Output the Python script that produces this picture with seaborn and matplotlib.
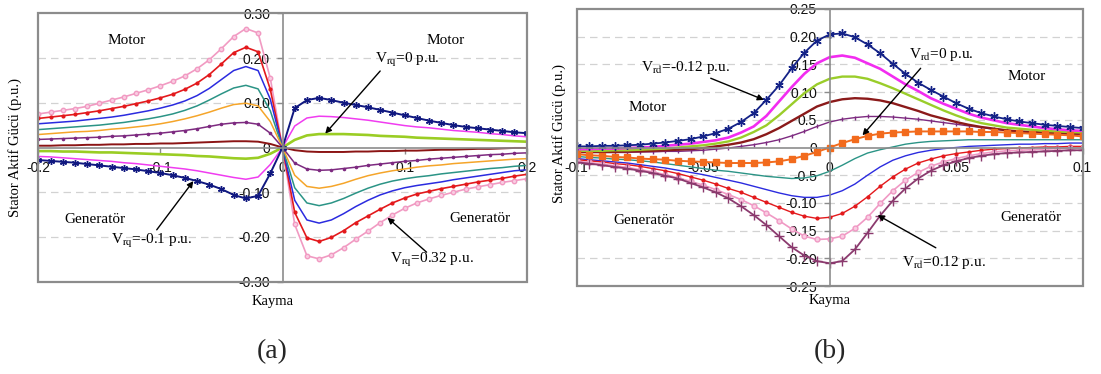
import matplotlib
matplotlib.use("Agg")
import matplotlib.pyplot as plt
import seaborn as sns
from matplotlib.patches import Rectangle

# ---------------- panel (a): stator active power vs slip, Vrq sweep ----------------
slip_a = [-0.20, -0.19, -0.18, -0.17, -0.16, -0.15, -0.14, -0.13, -0.12, -0.11,
          -0.10, -0.09, -0.08, -0.07, -0.06, -0.05, -0.04, -0.03, -0.02, -0.01,
          0.00, 0.01, 0.02, 0.03, 0.04, 0.05, 0.06, 0.07, 0.08, 0.09,
          0.10, 0.11, 0.12, 0.13, 0.14, 0.15, 0.16, 0.17, 0.18, 0.19, 0.20]

pa_pink = [0.075, 0.079, 0.083, 0.087, 0.092, 0.099, 0.106, 0.113, 0.121, 0.129,
           0.138, 0.148, 0.160, 0.176, 0.196, 0.221, 0.248, 0.266, 0.256, 0.155, 0.0,
           -0.172, -0.242, -0.249, -0.240, -0.224, -0.205, -0.187, -0.168, -0.151, -0.136,
           -0.124, -0.115, -0.107, -0.100, -0.093, -0.088, -0.083, -0.078, -0.074, -0.070]
pa_red = [0.065, 0.068, 0.071, 0.074, 0.078, 0.082, 0.087, 0.092, 0.098, 0.104,
          0.111, 0.119, 0.130, 0.144, 0.163, 0.187, 0.212, 0.224, 0.214, 0.130, 0.0,
          -0.145, -0.202, -0.210, -0.201, -0.186, -0.168, -0.153, -0.138, -0.124, -0.113,
          -0.104, -0.098, -0.092, -0.087, -0.082, -0.077, -0.073, -0.069, -0.064, -0.060]
pa_blue = [0.053, 0.055, 0.057, 0.059, 0.062, 0.065, 0.068, 0.072, 0.077, 0.082,
           0.088, 0.095, 0.104, 0.116, 0.132, 0.152, 0.172, 0.181, 0.172, 0.108, 0.0,
           -0.118, -0.162, -0.169, -0.162, -0.148, -0.132, -0.118, -0.106, -0.097, -0.090,
           -0.085, -0.081, -0.077, -0.072, -0.068, -0.064, -0.060, -0.056, -0.052, -0.050]
pa_teal = [0.040, 0.042, 0.044, 0.046, 0.048, 0.050, 0.053, 0.056, 0.060, 0.064,
           0.069, 0.075, 0.083, 0.093, 0.106, 0.120, 0.133, 0.139, 0.131, 0.082, 0.0,
           -0.090, -0.124, -0.130, -0.124, -0.114, -0.102, -0.091, -0.082, -0.075, -0.070,
           -0.066, -0.063, -0.059, -0.056, -0.053, -0.050, -0.047, -0.045, -0.042, -0.040]
pa_orange = [0.029, 0.031, 0.033, 0.035, 0.036, 0.038, 0.041, 0.043, 0.046, 0.049,
             0.053, 0.058, 0.064, 0.071, 0.079, 0.088, 0.096, 0.099, 0.093, 0.058, 0.0,
             -0.062, -0.087, -0.091, -0.087, -0.080, -0.071, -0.063, -0.057, -0.052, -0.048,
             -0.044, -0.041, -0.039, -0.036, -0.034, -0.032, -0.030, -0.028, -0.026, -0.025]
pa_purple = [0.018, 0.019, 0.020, 0.021, 0.022, 0.023, 0.025, 0.026, 0.028, 0.030,
             0.032, 0.035, 0.038, 0.042, 0.047, 0.052, 0.055, 0.056, 0.052, 0.032, 0.0,
             -0.035, -0.048, -0.051, -0.050, -0.047, -0.044, -0.040, -0.037, -0.034, -0.031,
             -0.029, -0.026, -0.024, -0.022, -0.020, -0.018, -0.016, -0.015, -0.013, -0.012]
pa_brown = [0.004, 0.004, 0.005, 0.005, 0.006, 0.006, 0.007, 0.007, 0.008, 0.008,
            0.009, 0.009, 0.010, 0.011, 0.012, 0.013, 0.014, 0.014, 0.013, 0.008, 0.0,
            -0.006, -0.009, -0.010, -0.010, -0.010, -0.009, -0.009, -0.008, -0.008, -0.007,
            -0.007, -0.006, -0.005, -0.005, -0.004, -0.003, -0.003, -0.002, -0.001, -0.001]
pa_green = [-0.008, -0.008, -0.009, -0.009, -0.010, -0.011, -0.011, -0.012, -0.013, -0.014,
            -0.015, -0.016, -0.017, -0.019, -0.020, -0.022, -0.024, -0.025, -0.023, -0.014, 0.0,
            0.017, 0.027, 0.030, 0.030, 0.030, 0.029, 0.028, 0.026, 0.025, 0.024,
            0.022, 0.021, 0.020, 0.019, 0.018, 0.017, 0.016, 0.015, 0.014, 0.013]
pa_magenta = [-0.020, -0.021, -0.023, -0.025, -0.027, -0.029, -0.031, -0.034, -0.036, -0.039,
              -0.042, -0.045, -0.048, -0.052, -0.057, -0.062, -0.067, -0.071, -0.066, -0.038, 0.0,
              0.048, 0.066, 0.070, 0.069, 0.067, 0.064, 0.061, 0.057, 0.053, 0.049,
              0.046, 0.044, 0.041, 0.038, 0.036, 0.034, 0.031, 0.029, 0.026, 0.024]
pa_navy = [-0.028, -0.030, -0.032, -0.034, -0.037, -0.040, -0.043, -0.046, -0.049, -0.053,
           -0.057, -0.062, -0.068, -0.075, -0.083, -0.093, -0.106, -0.114, -0.108, -0.058, 0.0,
           0.088, 0.106, 0.111, 0.106, 0.100, 0.095, 0.090, 0.084, 0.078, 0.072,
           0.066, 0.060, 0.055, 0.050, 0.046, 0.043, 0.040, 0.037, 0.034, 0.032]

ticks_a_x = [-0.2, -0.1, 0.0, 0.1, 0.2]
labels_a_x = ["-0.2", "-0.1", "0", "0.1", "0.2"]
ticks_a_y = [-0.30, -0.20, -0.10, 0.0, 0.10, 0.20, 0.30]
labels_a_y = ["-0.30", "-0.20", "-0.10", "0", "0.10", "0.20", "0.30"]

# ---------------- panel (b): stator active power vs slip, Vrd sweep ----------------
slip_b = [-0.100, -0.095, -0.090, -0.085, -0.080, -0.075, -0.070, -0.065, -0.060, -0.055,
          -0.050, -0.045, -0.040, -0.035, -0.030, -0.025, -0.020, -0.015, -0.010, -0.005,
          0.000, 0.005, 0.010, 0.015, 0.020, 0.025, 0.030, 0.035, 0.040, 0.045,
          0.050, 0.055, 0.060, 0.065, 0.070, 0.075, 0.080, 0.085, 0.090, 0.095, 0.100]

pb_navy = [0.002, 0.002, 0.003, 0.003, 0.004, 0.005, 0.007, 0.009, 0.012, 0.015,
           0.020, 0.026, 0.034, 0.046, 0.062, 0.086, 0.112, 0.143, 0.171, 0.193, 0.204,
           0.206, 0.199, 0.186, 0.170, 0.151, 0.133, 0.117, 0.104, 0.092, 0.080,
           0.070, 0.062, 0.056, 0.051, 0.047, 0.044, 0.041, 0.039, 0.037, 0.035]
pb_magenta = [-0.003, -0.003, -0.002, -0.002, -0.001, 0.000, 0.001, 0.003, 0.005, 0.007,
              0.010, 0.013, 0.018, 0.027, 0.038, 0.057, 0.083, 0.109, 0.133, 0.152, 0.163,
              0.166, 0.162, 0.152, 0.142, 0.128, 0.114, 0.102, 0.089, 0.079, 0.070,
              0.061, 0.054, 0.049, 0.044, 0.041, 0.038, 0.035, 0.033, 0.031, 0.030]
pb_green = [-0.006, -0.006, -0.006, -0.005, -0.005, -0.004, -0.003, -0.002, 0.000, 0.002,
            0.004, 0.007, 0.011, 0.018, 0.028, 0.040, 0.058, 0.078, 0.098, 0.114, 0.124,
            0.128, 0.128, 0.124, 0.116, 0.107, 0.097, 0.087, 0.077, 0.067, 0.058,
            0.050, 0.044, 0.040, 0.036, 0.034, 0.032, 0.030, 0.029, 0.028, 0.027]
pb_brown = [-0.008, -0.008, -0.008, -0.008, -0.007, -0.007, -0.006, -0.005, -0.004, -0.003,
            -0.001, 0.002, 0.005, 0.009, 0.015, 0.024, 0.035, 0.048, 0.061, 0.074, 0.082,
            0.087, 0.089, 0.088, 0.085, 0.080, 0.073, 0.066, 0.058, 0.052, 0.046,
            0.041, 0.037, 0.034, 0.031, 0.029, 0.028, 0.027, 0.026, 0.025, 0.025]
pb_purple = [-0.009, -0.009, -0.009, -0.009, -0.009, -0.008, -0.008, -0.007, -0.007, -0.006,
             -0.005, -0.003, -0.001, 0.002, 0.005, 0.009, 0.014, 0.021, 0.029, 0.038, 0.046,
             0.051, 0.054, 0.056, 0.056, 0.055, 0.053, 0.051, 0.048, 0.045, 0.042,
             0.039, 0.036, 0.033, 0.031, 0.029, 0.027, 0.026, 0.025, 0.024, 0.023]
pb_orange = [-0.012, -0.014, -0.015, -0.017, -0.018, -0.020, -0.021, -0.022, -0.024, -0.025,
             -0.026, -0.027, -0.028, -0.028, -0.028, -0.027, -0.025, -0.021, -0.015, -0.008, 0.000,
             0.008, 0.015, 0.021, 0.025, 0.027, 0.028, 0.029, 0.029, 0.029, 0.029,
             0.029, 0.028, 0.028, 0.027, 0.026, 0.025, 0.024, 0.023, 0.022, 0.020]
pb_teal = [-0.016, -0.018, -0.019, -0.021, -0.022, -0.024, -0.026, -0.029, -0.032, -0.035,
           -0.038, -0.041, -0.043, -0.046, -0.049, -0.052, -0.054, -0.056, -0.055, -0.051, -0.043,
           -0.032, -0.020, -0.010, -0.004, 0.001, 0.006, 0.009, 0.011, 0.012, 0.013,
           0.014, 0.014, 0.014, 0.014, 0.014, 0.014, 0.014, 0.014, 0.014, 0.014]
pb_blue = [-0.020, -0.022, -0.024, -0.026, -0.028, -0.031, -0.034, -0.037, -0.041, -0.045,
           -0.049, -0.054, -0.059, -0.064, -0.070, -0.076, -0.082, -0.087, -0.090, -0.090, -0.086,
           -0.078, -0.066, -0.050, -0.035, -0.023, -0.015, -0.009, -0.005, -0.002, 0.000,
           0.002, 0.003, 0.004, 0.005, 0.006, 0.006, 0.007, 0.007, 0.008, 0.008]
pb_red = [-0.022, -0.024, -0.026, -0.029, -0.031, -0.034, -0.038, -0.042, -0.047, -0.053,
          -0.059, -0.066, -0.074, -0.081, -0.090, -0.099, -0.108, -0.117, -0.124, -0.128, -0.126,
          -0.119, -0.106, -0.089, -0.070, -0.053, -0.039, -0.028, -0.021, -0.015, -0.011,
          -0.008, -0.005, -0.003, -0.002, -0.001, 0.000, 0.001, 0.001, 0.002, 0.002]
pb_pink = [-0.025, -0.027, -0.030, -0.033, -0.036, -0.040, -0.044, -0.049, -0.055, -0.061,
           -0.068, -0.076, -0.085, -0.094, -0.105, -0.118, -0.132, -0.147, -0.160, -0.166, -0.165,
           -0.160, -0.146, -0.126, -0.101, -0.078, -0.059, -0.045, -0.034, -0.026, -0.020,
           -0.015, -0.011, -0.008, -0.006, -0.005, -0.004, -0.003, -0.002, -0.001, -0.001]
pb_plum = [-0.027, -0.029, -0.032, -0.035, -0.038, -0.042, -0.046, -0.051, -0.056, -0.064,
           -0.072, -0.081, -0.092, -0.106, -0.122, -0.140, -0.160, -0.180, -0.195, -0.205, -0.209,
           -0.205, -0.184, -0.154, -0.123, -0.096, -0.074, -0.056, -0.042, -0.032, -0.025,
           -0.019, -0.015, -0.012, -0.010, -0.009, -0.008, -0.007, -0.006, -0.005, -0.005]

ticks_b_x = [-0.1, -0.05, 0.0, 0.05, 0.1]
labels_b_x = ["-0.1", "-0.05", "0", "0.05", "0.1"]
ticks_b_y = [-0.25, -0.20, -0.15, -0.10, -0.05, 0.0, 0.05, 0.10, 0.15, 0.20, 0.25]
labels_b_y = ["-0.25", "-0.20", "-0.15", "-0.10", "-0.5", "0", "0.5", "0.10", "0.15", "0.20", "0.25"]

ASTER = (6, 2, 0)

# (values, colour, width, marker, marker size, marker face)
series_a = [
    (pa_pink, "#f19ac2", 1.2, "o", 3.2, "#f9cde2"),
    (pa_red, "#e3191c", 1.2, "o", 2.0, "#e3191c"),
    (pa_blue, "#2b2bdf", 1.1, None, 0, None),
    (pa_teal, "#2b9486", 1.1, None, 0, None),
    (pa_orange, "#f5a52a", 1.1, None, 0, None),
    (pa_purple, "#7d2a80", 1.1, "o", 1.6, "#7d2a80"),
    (pa_brown, "#8b1414", 1.4, None, 0, None),
    (pa_green, "#9acd24", 1.9, None, 0, None),
    (pa_magenta, "#f03cf0", 1.1, None, 0, None),
    (pa_navy, "#101880", 1.4, ASTER, 5.0, "#101880"),
]
series_b = [
    (pb_teal, "#2b9486", 1.0, None, 0, None),
    (pb_blue, "#2b2bdf", 1.0, None, 0, None),
    (pb_red, "#e3191c", 1.0, "o", 2.0, "#e3191c"),
    (pb_pink, "#f099c4", 1.2, "o", 3.5, "#f9cde2"),
    (pb_plum, "#8b3a6e", 1.3, "+", 7.0, "#8b3a6e"),
    (pb_purple, "#7d2a80", 1.0, "|", 3.0, "#7d2a80"),
    (pb_brown, "#8b1a1a", 1.7, None, 0, None),
    (pb_green, "#9acd2a", 1.7, None, 0, None),
    (pb_magenta, "#f22cf0", 1.9, None, 0, None),
    (pb_orange, "#f26b1d", 1.4, "s", 4.0, "#f26b1d"),
    (pb_navy, "#142287", 1.3, ASTER, 6.0, "#142287"),
]

sns.set_theme(style="white")
plt.rcParams["font.family"] = ["Liberation Serif", "DejaVu Serif"]
plt.rcParams["mathtext.fontset"] = "stix"

GRAY = "#8c8c8c"


def draw_series(ax, slip, series):
    for vals, col, lw, mk, ms, mfc in series:
        kw = dict(color=col, linewidth=lw)
        if mk is not None:
            kw.update(marker=mk, markersize=ms, markerfacecolor=mfc,
                      markeredgecolor=col, markeredgewidth=1.0)
        sns.lineplot(x=slip, y=vals, ax=ax, estimator=None, sort=False, **kw)


def style_axes(ax, xlim, ylim, xt, xtl, yt, ytl):
    ax.set_xlim(xlim)
    ax.set_ylim(ylim)
    for v in yt:
        if v != 0 and abs(v) < ylim[1] - 1e-9:
            ax.axhline(v, color="#d2d2d2", lw=0.9, ls=(0, (6, 4)), zorder=0)
    ax.spines["left"].set_position("zero")
    ax.spines["bottom"].set_position("zero")
    ax.spines["top"].set_visible(False)
    ax.spines["right"].set_visible(False)
    for sp in ("left", "bottom"):
        ax.spines[sp].set_color(GRAY)
        ax.spines[sp].set_linewidth(1.2)
    ax.add_patch(Rectangle((0, 0), 1, 1, transform=ax.transAxes, fill=False,
                           ec=GRAY, lw=1.6, clip_on=False, zorder=6))
    ax.set_xticks(xt)
    ax.set_xticklabels(xtl)
    ax.set_yticks(yt)
    ax.set_yticklabels(ytl)
    ax.tick_params(axis="both", direction="out", length=4, width=1, color=GRAY,
                   labelsize=10, labelcolor="#111111", bottom=True, left=True)
    ax.tick_params(axis="x", pad=6)
    ax.tick_params(axis="y", pad=5)
    for lab in ax.get_xticklabels() + ax.get_yticklabels():
        lab.set_fontfamily("Liberation Sans")
        lab.set_zorder(7)
    ax.set_xlabel("Kayma", fontsize=10.5, color="black")
    ax.set_ylabel("Stator Aktif Gücü (p.u.)", fontsize=10.5, color="black")
    ax.grid(False)


def note(ax, txt, xy):
    ax.text(xy[0], xy[1], txt, fontsize=11, ha="center", va="center", color="black")


def arrow(ax, tail, head):
    ax.annotate("", xy=head, xytext=tail,
                arrowprops=dict(arrowstyle="-|>", color="black", lw=1.0,
                                shrinkA=0, shrinkB=0, mutation_scale=9))


fig = plt.figure(figsize=(11.01, 3.74), dpi=100)
ax_a = fig.add_axes([38.3 / 1101, 1 - 281.7 / 374, 488.4 / 1101, 268.4 / 374])
ax_b = fig.add_axes([576.7 / 1101, 1 - 286 / 374, 505.8 / 1101, 277 / 374])

# panel (a)
draw_series(ax_a, slip_a, series_a)
style_axes(ax_a, (-0.2, 0.2), (-0.30, 0.30), ticks_a_x, labels_a_x, ticks_a_y, labels_a_y)
ax_a.xaxis.set_label_coords(0.48, -0.05)
ax_a.yaxis.set_label_coords(-0.033, 0.50)
note(ax_a, "Motor", (-0.128, 0.240))
note(ax_a, "Motor", (0.134, 0.240))
note(ax_a, "Generatör", (-0.154, -0.162))
note(ax_a, "Generatör", (0.162, -0.158))
note(ax_a, r"V$_{\mathrm{rq}}$=0 p.u.", (0.102, 0.196))
arrow(ax_a, (0.080, 0.171), (0.035, 0.031))
note(ax_a, r"V$_{\mathrm{rq}}$=-0.1 p.u.", (-0.107, -0.209))
arrow(ax_a, (-0.103, -0.184), (-0.073, -0.075))
note(ax_a, r"V$_{\mathrm{rq}}$=0.32 p.u.", (0.122, -0.252))
arrow(ax_a, (0.118, -0.234), (0.086, -0.157))

# panel (b)
draw_series(ax_b, slip_b, series_b)
style_axes(ax_b, (-0.1, 0.1), (-0.25, 0.25), ticks_b_x, labels_b_x, ticks_b_y, labels_b_y)
ax_b.xaxis.set_label_coords(0.50, -0.03)
ax_b.yaxis.set_label_coords(-0.021, 0.55)
note(ax_b, r"V$_{\mathrm{rd}}$=-0.12 p.u.", (-0.057, 0.145))
arrow(ax_b, (-0.047, 0.125), (-0.026, 0.086))
note(ax_b, "Motor", (-0.072, 0.073))
note(ax_b, r"V$_{\mathrm{rd}}$=0 p.u.", (0.044, 0.167))
arrow(ax_b, (0.036, 0.143), (0.013, 0.022))
note(ax_b, "Motor", (0.078, 0.129))
note(ax_b, "Generatör", (-0.0735, -0.131))
note(ax_b, "Generatör", (0.0796, -0.127))
note(ax_b, r"V$_{\mathrm{rd}}$=0.12 p.u.", (0.045, -0.207))
arrow(ax_b, (0.042, -0.181), (0.019, -0.122))

fig.text(272 / 1101, 1 - 352 / 374, "(a)", fontsize=20, ha="center", va="center")
fig.text(830 / 1101, 1 - 352 / 374, "(b)", fontsize=20, ha="center", va="center")

fig.savefig("out.png", dpi=100, facecolor="white")
